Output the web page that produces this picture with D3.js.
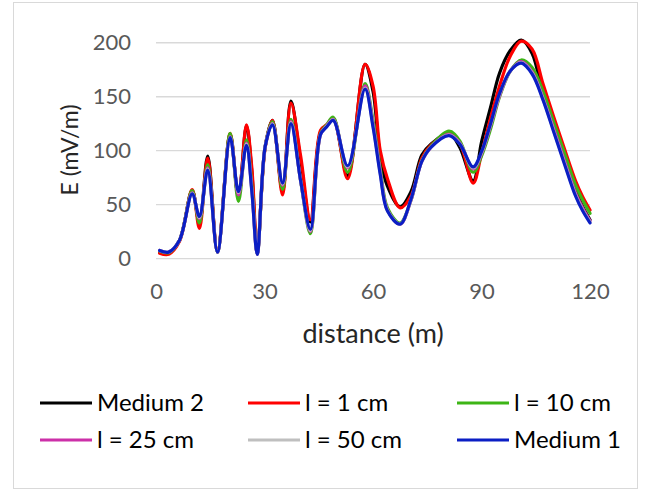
<!DOCTYPE html>
<html><head><meta charset="utf-8">
<script src="https://cdn.jsdelivr.net/npm/d3@7"></script>
<style>body{margin:0;background:#fff}svg{display:block}</style>
</head><body><svg id="c" width="647" height="490"></svg>
<script>
const distance = [1, 3.5, 6.5, 10, 12, 14.3, 17, 20.5, 22.8, 25, 26.5, 28, 30.2, 32.2, 35, 37.3, 40, 42.7, 45.5, 47.2, 49, 53, 57.8, 60, 62, 64, 67.5, 70.5, 73.5, 76, 81, 84, 87.7, 90, 92.5, 95, 98, 101, 104, 107, 110, 113, 116, 118, 120];
const medium2 = [6.5, 5, 17, 63, 33, 95, 6, 115, 57, 123, 80, 5, 104, 128, 62, 146, 90, 34, 117, 123, 130, 77, 180, 155, 94, 67, 48, 62, 96, 106, 116, 103, 72, 108, 140, 172, 193, 202.5, 190, 152, 122, 93, 64, 48, 36];
const l1cm = [5, 4, 16, 64, 28, 93, 7, 116, 57, 124, 84, 8, 103, 128, 59, 144, 95, 36, 119, 124, 130, 74, 180, 160, 100, 74, 47, 58, 93, 105, 116, 107, 70, 97, 130, 160, 188, 201.5, 194, 162, 131, 101, 72, 57, 45];
const l10cm = [7, 5.5, 17, 63, 33, 87, 6, 116, 53, 110, 68, 5, 104, 127, 64, 129, 72, 23, 116, 124, 131, 80, 162, 128, 84, 47, 33, 54, 91, 104, 118, 109, 80, 95, 120, 150, 174, 184, 177, 155, 126, 97, 68, 54, 42];
const l25cm = [7.5, 6, 17, 61, 37, 84, 6, 113, 59, 107, 64, 4, 104, 125, 68, 127, 72, 25, 115, 123, 129, 84, 160, 125, 81, 45, 32, 54, 90, 103, 115, 107, 83, 97, 123, 151, 174, 182.5, 173, 149, 120, 90, 61, 47, 35];
const l50cm = [7.5, 6, 17, 60.5, 38, 83, 6, 112.5, 61, 106, 63, 4, 104, 124.5, 69, 126, 72, 26, 115, 122.5, 128.5, 85, 158, 123, 79, 44.5, 32, 54.5, 90, 103, 114.5, 106.5, 84, 98, 124, 152, 174, 181.5, 172, 148, 118, 88, 59, 45, 34];
const medium1 = [7.5, 6, 17, 60, 39, 82, 6, 112, 62, 105, 62, 4, 104, 124, 70, 125, 72, 27, 115, 122, 128, 86, 157, 122, 78, 44, 32, 55, 90, 103, 114, 106, 85, 99, 125, 153, 174, 181, 171, 147, 117, 87, 58, 44, 33];
const seriesNames = ["Medium 2", "l = 1 cm", "l = 10 cm", "l = 25 cm", "l = 50 cm", "Medium 1"];
const seriesColors = ["#000000", "#FF0000", "#3DB516", "#CC2FA8", "#BFBFBF", "#0B1EC4"];
const xTicks = [0, 30, 60, 90, 120];
const yTicks = [0, 50, 100, 150, 200];

const seriesValues = [medium2, l1cm, l10cm, l25cm, l50cm, medium1];
const svg = d3.select("#c");
const font = "Lato, 'Open Sans', sans-serif";

svg.append("rect").attr("x", 13.5).attr("y", 2.5).attr("width", 624).attr("height", 486)
  .attr("fill", "#fff").attr("stroke", "#D9D9D9").attr("stroke-width", 1);

const x = d3.scaleLinear().domain([0, 120]).range([156, 590]);
const y = d3.scaleLinear().domain([0, 200]).range([258.6, 42.7]);

// gridlines
svg.append("g").selectAll("line").data(yTicks).join("line")
  .attr("x1", x(0)).attr("x2", x(120)).attr("y1", d => y(d)).attr("y2", d => y(d))
  .attr("stroke", "#D9D9D9").attr("stroke-width", 1.4);

// axes
const yAxis = svg.append("g").attr("transform", `translate(${x(0)},0)`)
  .call(d3.axisLeft(y).tickValues(yTicks).tickSize(0).tickPadding(25));
const xAxis = svg.append("g").attr("transform", `translate(0,${y(0)})`)
  .call(d3.axisBottom(x).tickValues(xTicks).tickSize(0).tickPadding(25));
[yAxis, xAxis].forEach(a => {
  a.select(".domain").remove();
  a.selectAll("text").attr("font-family", font).attr("font-size", 22).attr("fill", "#595959");
});

// axis titles
svg.append("text").attr("x", 373).attr("y", 343).attr("text-anchor", "middle")
  .attr("font-family", font).attr("font-size", 27).attr("fill", "#262626").text("distance (m)");
svg.append("text").attr("transform", "translate(78,150) rotate(-90)").attr("text-anchor", "middle")
  .attr("font-family", font).attr("font-size", 23).attr("fill", "#262626").text("E (mV/m)");

// lines
const line = d3.line().x((d, i) => x(distance[i])).y(d => y(d)).curve(d3.curveCatmullRom.alpha(0.5));
svg.append("g").selectAll("path").data(seriesValues).join("path")
  .attr("d", d => line(d)).attr("fill", "none")
  .attr("stroke", (d, i) => seriesColors[i]).attr("stroke-width", 3.2)
  .attr("stroke-linejoin", "round").attr("stroke-linecap", "round");

// legend
const legX = [40, 248, 457];
const legY = [403, 440];
const leg = svg.append("g").selectAll("g").data(seriesNames).join("g")
  .attr("transform", (d, i) => `translate(${legX[i % 3]},${legY[Math.floor(i / 3)]})`);
leg.append("line").attr("x1", 0).attr("x2", 52).attr("y1", 0).attr("y2", 0)
  .attr("stroke", (d, i) => seriesColors[i]).attr("stroke-width", 3);
leg.append("text").attr("x", 57).attr("y", 0).attr("dy", "0.35em")
  .attr("font-family", font).attr("font-size", 24).attr("fill", "#000").text(d => d);
</script></body></html>
